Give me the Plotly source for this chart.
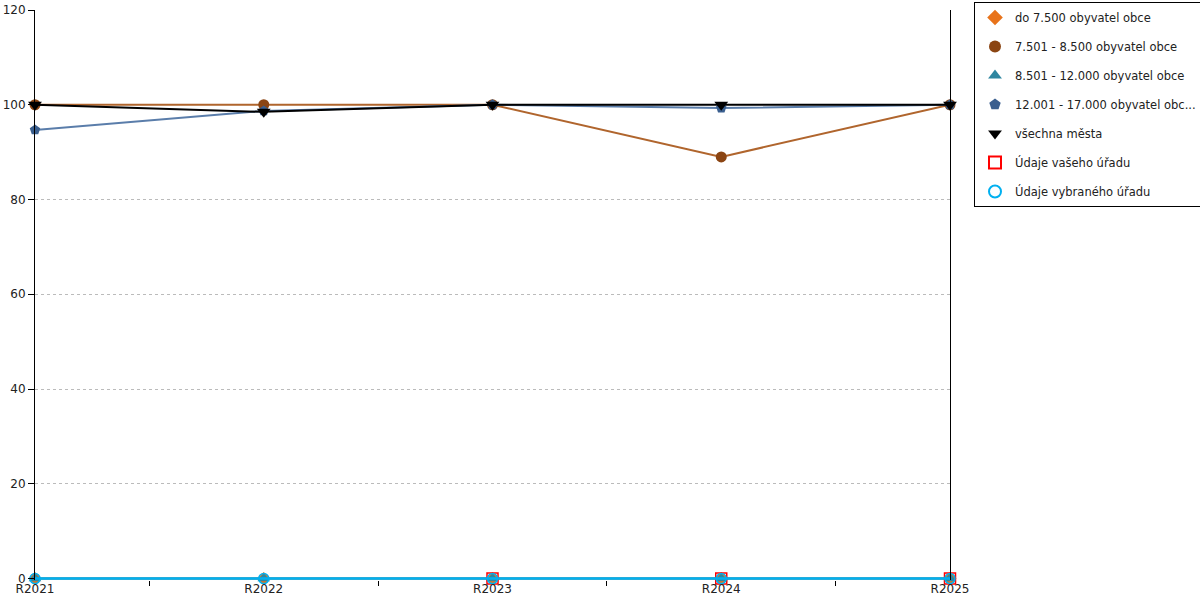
import plotly.graph_objects as go

categories = ["R2021", "R2022", "R2023", "R2024", "R2025"]
s_do7500 = [0, 0, 0, 0, 0]
s_7501_8500 = [100, 100, 100, 89, 100]
s_8501_12000 = [0, 0, 0, 0, 0]
s_12001_17000 = [94.7, 98.7, 100, 99.3, 100]
s_vsechna = [100, 98.5, 100, 100, 100]
s_vas_urad = [None, None, 0, 0, 0]
s_vybrany_urad = [0, 0, 0, 0, 0]

names = [
    "do 7.500 obyvatel obce",
    "7.501 - 8.500 obyvatel obce",
    "8.501 - 12.000 obyvatel obce",
    "12.001 - 17.000 obyvatel obc...",
    "všechna města",
    "Údaje vašeho úřadu",
    "Údaje vybraného úřadu",
]
series = [s_do7500, s_7501_8500, s_8501_12000, s_12001_17000, s_vsechna, s_vas_urad, s_vybrany_urad]
line_colors = ["#E8731A", "#B0652D", "#2E86A0", "#5A7DAA", "#000000", "#FF0000", "#00B0F0"]
line_widths = [2, 2, 2, 2, 2, 0, 2.5]
markers = [
    dict(symbol="diamond", size=10, color="#E8731A"),
    dict(symbol="circle", size=11, color="#8B4513"),
    dict(symbol="triangle-up", size=11, color="#2E86A0"),
    dict(symbol="pentagon", size=11, color="#3A5F8F"),
    dict(symbol="triangle-down", size=12, color="#000000"),
    dict(symbol="square-open", size=11, color="#FF0000", line=dict(width=1.5)),
    dict(symbol="circle-open", size=10, color="#00B0F0", line=dict(width=1.5)),
]
legend_markers = [
    dict(symbol="diamond", size=9, color="#E8731A"),
    dict(symbol="circle", size=9, color="#8B4513"),
    dict(symbol="triangle-up", size=9, color="#2E86A0"),
    dict(symbol="pentagon", size=10, color="#3A5F8F"),
    dict(symbol="triangle-down", size=10, color="#000000"),
    dict(symbol="square-open", size=9, color="#FF0000", line=dict(width=1.2)),
    dict(symbol="circle-open", size=9, color="#00B0F0", line=dict(width=1.2)),
]

xi = list(range(len(categories)))
fig = go.Figure()
for i, (nm, ys) in enumerate(zip(names, series)):
    mode = "lines+markers" if line_widths[i] > 0 else "markers"
    fig.add_trace(go.Scatter(
        x=xi, y=ys, mode=mode, name=nm, showlegend=False,
        line=dict(color=line_colors[i], width=max(line_widths[i], 0.1)),
        marker=markers[i], cliponaxis=False, hoverinfo="skip",
    ))
for i, nm in enumerate(names):
    fig.add_trace(go.Scatter(
        x=[None], y=[None], mode="markers", name=nm, legendgroup=f"g{i}",
        marker=legend_markers[i], showlegend=True,
    ))

W, H = 1200, 600
fig.update_layout(
    width=W, height=H,
    margin=dict(l=35, r=250, t=10, b=20, autoexpand=False),
    paper_bgcolor="white", plot_bgcolor="white",
    font=dict(family="DejaVu Sans, Verdana, sans-serif", size=12, color="#222222"),
    showlegend=True,
    legend=dict(
        xref="container", yref="container",
        x=974 / W, y=1.0 - 2 / H, xanchor="left", yanchor="top",
        bordercolor="#000000", borderwidth=1, bgcolor="white",
        font=dict(size=11.5, color="#222222"),
        tracegroupgap=10, itemsizing="constant", itemwidth=30,
    ),
)
fig.update_xaxes(
    range=[0, 4], tickmode="array", tickvals=xi, ticktext=categories,
    showgrid=False, zeroline=False, showline=False, ticks="",
    tickfont=dict(size=12), automargin=False,
    minor=dict(tickmode="array", tickvals=[0.5, 1.5, 2.5, 3.5], ticks="outside",
               ticklen=5, tickcolor="#000000", showgrid=False),
)
fig.update_yaxes(
    range=[-0.3, 120], tickmode="array", tickvals=[0, 20, 40, 60, 80, 100, 120],
    showgrid=True, gridcolor="#BBBBBB", griddash="dot", gridwidth=1,
    zeroline=False, showline=True, mirror=True, linecolor="#000000", linewidth=1,
    ticks="outside", ticklen=6, tickcolor="#000000",
    tickfont=dict(size=12), automargin=False,
)
fig.write_html(
    "out.html",
    config={"displayModeBar": False},
    post_script="document.body.style.margin='0';document.body.style.overflow='hidden';",
)
